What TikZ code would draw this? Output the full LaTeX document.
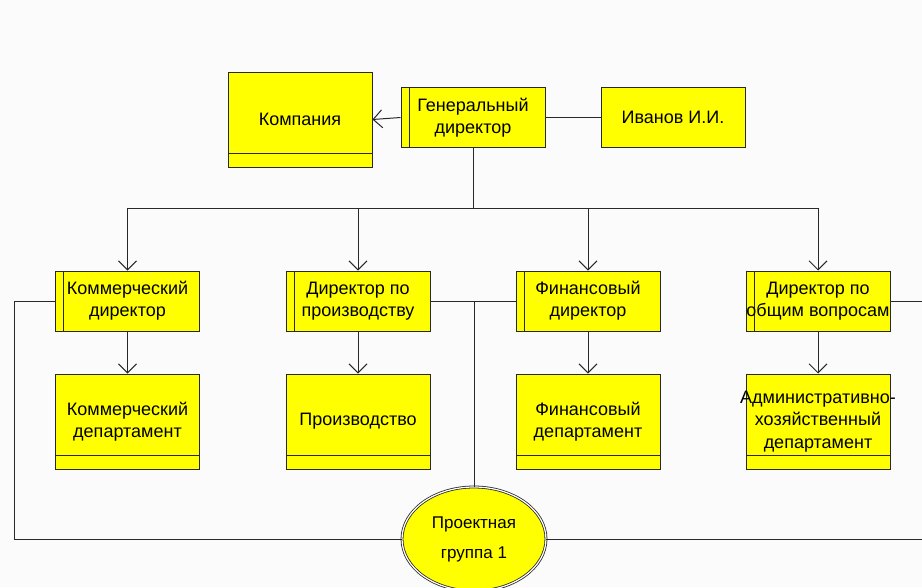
\documentclass[tikz,border=0pt]{standalone}
\usepackage{fontspec}
\setmainfont{Liberation Sans}
\usetikzlibrary{arrows.meta, shapes.geometric}

\definecolor{boxyellow}{RGB}{255,255,0}
\definecolor{linegray}{RGB}{40,40,40}
\definecolor{bgwhite}{RGB}{250,251,250}

\begin{document}
\begin{tikzpicture}[x=1pt, y=-1pt,
        box_unit/.style={draw=linegray, fill=boxyellow, rectangle, line width=1pt, minimum width=144pt, minimum height=95pt, align=center, inner sep=0pt,
            font=\fontsize{18}{22.5}\selectfont,
            path picture={\draw[linegray, line width=1pt] ([yshift=14pt]path picture bounding box.south west) -- ([yshift=14pt]path picture bounding box.south east);}},
        box_role/.style={draw=linegray, fill=boxyellow, rectangle, line width=1pt, minimum width=144pt, minimum height=60pt, align=center, inner sep=0pt,
            font=\fontsize{18}{22}\selectfont,
            path picture={\draw[linegray, line width=1pt] ([xshift=8pt]path picture bounding box.south west) -- ([xshift=8pt]path picture bounding box.north west);}},
        box_group/.style={draw=linegray, fill=boxyellow, ellipse, double, double distance=1.2pt, line width=0.8pt, minimum width=144pt, minimum height=104pt, align=center, inner sep=0pt,
            font=\fontsize{17}{30}\selectfont},
        arrow/.style={-{Straight Barb[length=9pt, width=18pt]}, linegray, line width=1pt},
        link/.style={linegray, line width=1pt}
    ]
    \useasboundingbox[fill=bgwhite] (0,0) rectangle (922,587);
    
    % ==================== Top level ====================
    \node[box_unit] (company) at (300, 119.5) {Компания};
    \node[box_role] (gen_dir) at (473, 117.5) {Генеральный\\директор};
    \node[box_role, path picture={}] (ivanov) at (673, 117.5) {Иванов И.И.};
    
    % ==================== Directors ====================
    \node[box_role] (dir_com) at (127.5, 301) {Коммерческий\\директор};
    \node[box_role] (dir_prod) at (358, 301) {Директор по\\производству};
    \node[box_role] (dir_fin) at (588, 301) {Финансовый\\директор};
    \node[box_role] (dir_gen) at (818, 301) {Директор по\\\makebox[140pt]{общим вопросам}};
    
    % ==================== Departments ====================
    \node[box_unit] (dep_com) at (127.5, 421.5) {Коммерческий\\департамент};
    \node[box_unit] (dep_prod) at (358, 421.5) {Производство};
    \node[box_unit] (dep_fin) at (588, 421.5) {Финансовый\\департамент};
    \node[box_unit] (dep_adm) at (818, 421.5) {\makebox[140pt]{Административно-}\\хозяйственный\\департамент};
    
    % ==================== Project group ====================
    \node[box_group] (proj) at (474, 539) {Проектная\\группа 1};
    
    % Connections top
    \coordinate (bus) at (473, 208);
    \draw[arrow] (gen_dir.west) -- (company.east);
    \draw[link] (gen_dir.east) -- (ivanov.west);
    \draw[link] (gen_dir.south) -- (bus);
    
    \draw[arrow] (bus) -| (dir_com.north);
    \draw[arrow] (bus) -| (dir_prod.north);
    \draw[arrow] (bus) -| (dir_fin.north);
    \draw[arrow] (bus) -| (dir_gen.north);
    
    % Directors to departments
    \draw[arrow] (dir_com.south) -- (dep_com.north);
    \draw[arrow] (dir_prod.south) -- (dep_prod.north);
    \draw[arrow] (dir_fin.south) -- (dep_fin.north);
    \draw[arrow] (dir_gen.south) -- (dep_adm.north);
    
    % Project group links
    \coordinate (left_end) at (14, 539);
    \coordinate (right_end) at (940, 539);
    \draw[link] (dir_com.west) -| (left_end) -- (proj.west);
    \draw[link] (dir_gen.east) -| (right_end) -- (proj.east);
    \draw[link] (dir_prod.east) -- (dir_fin.west);
    \draw[link] (proj.north) -- (proj.north |- dir_prod.east);
    
    \end{tikzpicture}
\end{document}
